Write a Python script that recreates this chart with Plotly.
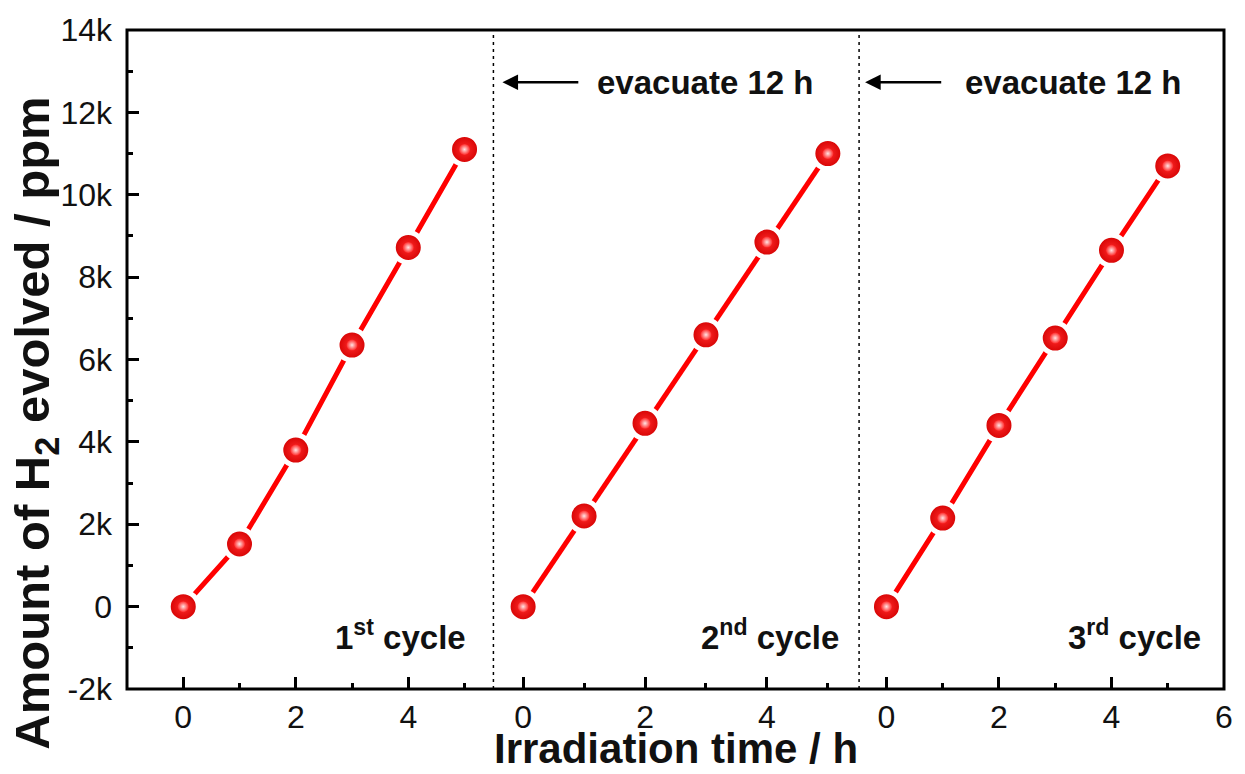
import plotly.graph_objects as go

# ---- data ----
hours = [0, 1, 2, 3, 4, 5]
cycle1 = [0, 1520, 3800, 6350, 8720, 11100]
cycle2 = [0, 2200, 4450, 6600, 8850, 11000]
cycle3 = [0, 2150, 4400, 6520, 8650, 10700]
cycle_labels = ["1<sup>st</sup> cycle", "2<sup>nd</sup> cycle", "3<sup>rd</sup> cycle"]
y_tickvals = [-2000, 0, 2000, 4000, 6000, 8000, 10000, 12000, 14000]
y_ticktext = ["-2k", "0", "2k", "4k", "6k", "8k", "10k", "12k", "14k"]
y_minor = [-1000, 1000, 3000, 5000, 7000, 9000, 11000, 13000]
evac_text = "evacuate 12 h"
evac_y = 12730

FONT = "Liberation Sans, Arial, sans-serif"
RED = "#ff0000"

fig = go.Figure()
axes = ["x", "x2", "x3"]
for xa, ys in zip(axes, [cycle1, cycle2, cycle3]):
    fig.add_trace(go.Scatter(
        x=hours, y=ys, xaxis=xa, yaxis="y", mode="lines+markers",
        line=dict(color=RED, width=5),
        marker=dict(size=30, color="#d20000",
                    gradient=dict(type="radial", color="#ff2a2a"),
                    line=dict(color="white", width=5)),
        showlegend=False, hoverinfo="skip"))
    fig.add_trace(go.Scatter(
        x=hours, y=ys, xaxis=xa, yaxis="y", mode="markers",
        marker=dict(size=11, color="rgba(255,42,42,1)",
                    gradient=dict(type="radial", color="#ffe4e4"),
                    line=dict(width=0)),
        showlegend=False, hoverinfo="skip"))

tickfont = dict(family=FONT, size=32, color="#111")
common_x = dict(anchor="y", ticks="inside", ticklen=12, tickwidth=2.5, tickcolor="black",
                showgrid=False, zeroline=False, showline=False, tickfont=tickfont,
                ticklabelstandoff=6,
                minor=dict(tickvals=[1, 3, 5], ticks="inside", ticklen=6,
                           tickwidth=2.5, tickcolor="black"))

fig.update_layout(
    width=1245, height=774,
    margin=dict(l=127, r=12, t=30, b=85),
    paper_bgcolor="white", plot_bgcolor="white",
    showlegend=False,
    xaxis=dict(domain=[0, 1/3], range=[-1, 5.5], tickvals=[0, 2, 4], **common_x),
    xaxis2=dict(domain=[1/3, 2/3], range=[-0.5, 5.5], tickvals=[0, 2, 4], **common_x),
    xaxis3=dict(domain=[2/3, 1], range=[-0.5, 6], tickvals=[0, 2, 4, 6], **common_x),
    yaxis=dict(domain=[0, 1], range=[-2000, 14000], anchor="x",
               tickvals=y_tickvals, ticktext=y_ticktext,
               ticks="inside", ticklen=12, tickwidth=2.5, tickcolor="black",
               showgrid=False, zeroline=False, showline=False, tickfont=tickfont,
               ticklabelstandoff=14,
               minor=dict(tickvals=y_minor, ticks="inside", ticklen=6,
                          tickwidth=2.5, tickcolor="black")),
)

# frame
fig.add_shape(type="rect", xref="paper", yref="paper", x0=0, x1=1, y0=0, y1=1,
              line=dict(color="black", width=3), layer="above")
# dotted separators
for xa in ["x2", "x3"]:
    fig.add_shape(type="line", xref=xa, yref="paper", x0=-0.5, x1=-0.5, y0=0, y1=1,
                  line=dict(color="black", width=3, dash="3px,4px"), layer="above")

# evacuate arrows and texts
for xa, tip, tail, tx in [("x2", -0.34, 0.93, 1.175), ("x3", -0.38, 1.0, 1.36)]:
    fig.add_annotation(x=tip, y=evac_y, xref=xa, yref="y", ax=tail, ay=evac_y,
                       axref=xa, ayref="y", text="", showarrow=True,
                       arrowhead=2, arrowsize=1.25, arrowwidth=2.5, arrowcolor="black",
                       standoff=0, startstandoff=0)
    fig.add_annotation(x=tx, y=evac_y, xref=xa, yref="y", text=evac_text,
                       showarrow=False, xanchor="left", yanchor="middle",
                       font=dict(family=FONT, size=33, color="#111", weight="bold"))

# cycle labels
for xa, lab, xr in zip(axes, cycle_labels, [5.06, 5.21, 5.62]):
    fig.add_annotation(x=xr, y=-700, xref=xa, yref="y", text=lab, showarrow=False,
                       xanchor="right", yanchor="middle",
                       font=dict(family=FONT, size=33, color="#111", weight="bold"))

# axis titles
fig.add_annotation(x=0.5, y=-0.09, xref="paper", yref="paper",
                   text="Irradiation time / h", showarrow=False,
                   xanchor="center", yanchor="middle",
                   font=dict(family=FONT, size=42, color="#111", weight="bold"))
fig.add_annotation(x=-0.083, y=0.404, xref="paper", yref="paper",
                   text="Amount of H<sub>2</sub> evolved / ppm", showarrow=False,
                   textangle=-90, xanchor="center", yanchor="middle",
                   font=dict(family=FONT, size=49, color="#111", weight="bold"))

fig.write_html("out.html")
